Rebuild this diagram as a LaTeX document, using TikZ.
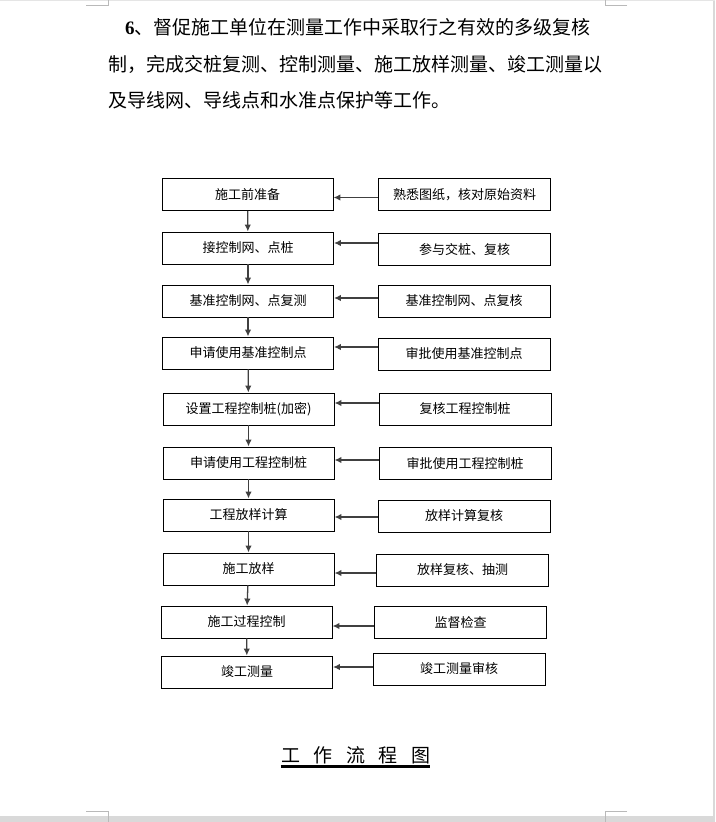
\documentclass[tikz,border=0pt]{standalone}
\usepackage{fontspec}
\setmainfont{Liberation Serif}
\newfontfamily\cjk{Noto Sans CJK SC}
\XeTeXlinebreaklocale "zh"
\XeTeXlinebreakskip = 0pt plus 3pt
\usetikzlibrary{arrows.meta, positioning, calc}

\begin{document}
\begin{tikzpicture}[x=1pt, y=-1pt,
  box/.style={draw, line width=0.9pt, minimum width=171pt, minimum height=32pt, inner sep=0pt, font=\cjk\fontsize{13}{13}\selectfont},
  work/.style={box},
  check/.style={box, minimum width=172pt},
  arrow/.style={-{Latex[length=7pt,width=6.5pt]}, line width=1.3pt, draw=black!75},
  para/.style={anchor=west, inner sep=0pt, font=\cjk\fontsize{19}{19}\selectfont},
  cropmark/.style={draw=gray!55, line width=0.7pt},
  band/.style={fill=gray!30, draw=none}
]
\useasboundingbox (0,0) rectangle (715,822);

% Page edges and crop marks
\fill[band] (0,816) rectangle (715,822);
\fill[band] (713,0) rectangle (715,822);
\fill[gray!20] (0,0) rectangle (715,1);
\draw[cropmark] (86,5.5) -- (108,5.5) -- (108,0);
\draw[cropmark] (627,5.5) -- (605,5.5) -- (605,0);
\draw[cropmark] (86,811.5) -- (108,811.5) -- (108,822);
\draw[cropmark] (627,811.5) -- (605,811.5) -- (605,822);

% Paragraph
\node[para] (line1) at (125,27) {\makebox[480pt][s]{{\rmfamily\bfseries 6}、督促施工单位在测量工作中采取行之有效的多级复核}};
\node[para] (line2) at (108,64) {\makebox[497pt][s]{制，完成交桩复测、控制测量、施工放样测量、竣工测量以}};
\node[para] (line3) at (108,100) {及导线网、导线点和水准点保护等工作。};

% Left column: work steps
\node[work] (l1)  at (247.5,194.5) {施工前准备};
\node[work] (l2)  at (248,248)     {接控制网、点桩};
\node[work] (l3)  at (248,301)     {基准控制网、点复测};
\node[work] (l4)  at (248,353)     {申请使用基准控制点};
\node[work] (l5)  at (248.5,409)   {设置工程控制桩(加密)};
\node[work] (l6)  at (248.5,463)   {申请使用工程控制桩};
\node[work] (l7)  at (248.5,515)   {工程放样计算};
\node[work] (l8)  at (248.5,569)   {施工放样};
\node[work] (l9)  at (246.5,622)   {施工过程控制};
\node[work] (l10) at (247,672)     {竣工测量};

% Right column: checks
\node[check] (r1)  at (464.5,194.5) {熟悉图纸，核对原始资料};
\node[check] (r2)  at (464.5,249.5) {参与交桩、复核};
\node[check] (r3)  at (464,301)     {基准控制网、点复核};
\node[check] (r4)  at (464,354)     {审批使用基准控制点};
\node[check] (r5)  at (465,409)     {复核工程控制桩};
\node[check] (r6)  at (465,463.5)   {审批使用工程控制桩};
\node[check] (r7)  at (464,516)     {放样计算复核};
\node[check] (r8)  at (462.5,570)   {放样复核、抽测};
\node[check] (r9)  at (460.5,622)   {监督检查};
\node[check] (r10) at (459,669)     {竣工测量审核};

% Arrows down the left column
\draw[arrow] (l1) -- (l2);
\draw[arrow] (l2) -- (l3);
\draw[arrow] (l3) -- (l4);
\draw[arrow] (l4) -- (l5);
\draw[arrow] (l5) -- (l6);
\draw[arrow] (l6) -- (l7);
\draw[arrow] (l7) -- (l8);
\draw[arrow] (l8) -- (l9);
\draw[arrow] (l9) -- (l10);

% Arrows from checks to steps
\draw[arrow] ([yshift=-3pt]r1.west) -- ([yshift=-3pt]r1.west -| l1.east);
\draw[arrow] ([yshift=6.5pt]r2.west) -- ([yshift=6.5pt]r2.west -| l2.east);
\draw[arrow] ([yshift=3pt]r3.west) -- ([yshift=3pt]r3.west -| l3.east);
\draw[arrow] ([yshift=7pt]r4.west) -- ([yshift=7pt]r4.west -| l4.east);
\draw[arrow] ([yshift=6pt]r5.west) -- ([yshift=6pt]r5.west -| l5.east);
\draw[arrow] ([yshift=3.5pt]r6.west) -- ([yshift=3.5pt]r6.west -| l6.east);
\draw[arrow] ([yshift=-1pt]r7.west) -- ([yshift=-1pt]r7.west -| l7.east);
\draw[arrow] ([yshift=-3pt]r8.west) -- ([yshift=-3pt]r8.west -| l8.east);
\draw[arrow] ([yshift=-4pt]r9.west) -- ([yshift=-4pt]r9.west -| l9.east);
\draw[arrow] ([yshift=2pt]r10.west) -- ([yshift=2pt]r10.west -| l10.east);

% Title
\node[inner sep=0pt, font=\cjk\fontsize{19}{19}\selectfont] (title) at (355.5,755) {工\hspace{13.5pt}作\hspace{13.5pt}流\hspace{13.5pt}程\hspace{13.5pt}图};
\draw[line width=2.7pt] ([yshift=-2.5pt]title.south west) -- ([yshift=-2.5pt]title.south east);

\end{tikzpicture}
\end{document}
